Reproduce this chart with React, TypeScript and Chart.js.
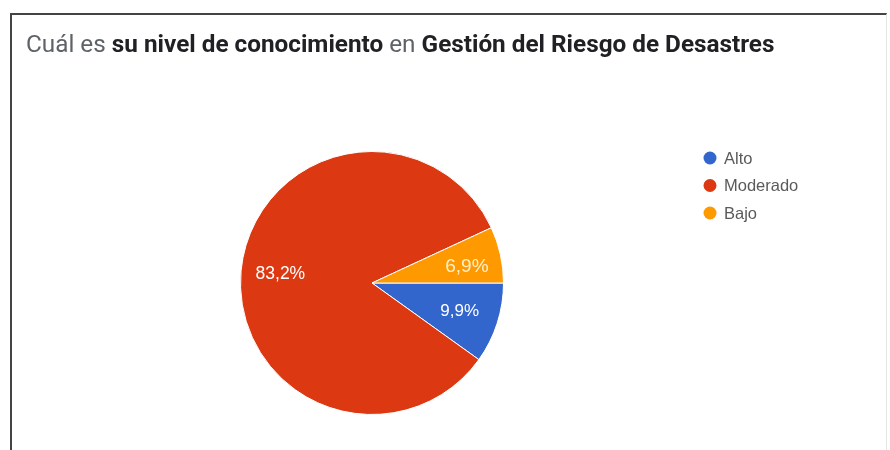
import React, { useEffect, useRef } from "react";
import { Chart, registerables } from "chart.js";

Chart.register(...registerables);

const categories = ["Alto", "Moderado", "Bajo"];
const values = [9.9, 83.2, 6.9];
const labelsText = ["9,9%", "83,2%", "6,9%"];
const colors = ["#3366cc", "#dc3912", "#ff9900"];

const sliceLabelPlugin = {
  id: "sliceLabels",
  afterDatasetsDraw(chart: any) {
    const ctx = chart.ctx;
    const meta = chart.getDatasetMeta(0);
    meta.data.forEach((arc: any, i: number) => {
      const p = arc.getProps(["x", "y", "startAngle", "endAngle", "outerRadius"], true);
      const mid = (p.startAngle + p.endAngle) / 2;
      const r = p.outerRadius * 0.7;
      const x = p.x + Math.cos(mid) * r;
      const y = p.y + Math.sin(mid) * r;
      ctx.save();
      const big = i === 2;
      const size = big ? "19px" : i === 1 ? "17.5px" : "17px";
      ctx.font = size + " 'Liberation Sans', Arial, sans-serif";
      ctx.fillStyle = big ? "#fff0cc" : "#ffffff";
      ctx.textAlign = "center";
      ctx.textBaseline = "middle";
      ctx.fillText(labelsText[i], x + (big ? 5 : 0), y + (big ? 4 : 0));
      ctx.restore();
    });
  },
};

const legendPlugin = {
  id: "customLegend",
  afterDraw(chart: any) {
    const ctx = chart.ctx;
    const labels = chart.data.labels as string[];
    const bg = chart.data.datasets[0].backgroundColor as string[];
    labels.forEach((lab, i) => {
      const cy = 158 + i * 27.5;
      ctx.save();
      ctx.beginPath();
      ctx.arc(710, cy, 6.5, 0, Math.PI * 2);
      ctx.fillStyle = bg[i];
      ctx.fill();
      ctx.font = "16.5px 'Liberation Sans', Arial, sans-serif";
      ctx.fillStyle = "#5a5a5a";
      ctx.textAlign = "left";
      ctx.textBaseline = "middle";
      ctx.fillText(lab, 724, cy + 1);
      ctx.restore();
    });
  },
};

export default function App() {
  const ref = useRef<HTMLCanvasElement | null>(null);

  useEffect(() => {
    document.body.style.margin = "0";
    if (!ref.current) return;
    const chart = new Chart(ref.current, {
      type: "pie",
      data: {
        labels: categories,
        datasets: [
          {
            data: values,
            backgroundColor: colors,
            borderColor: "#ffffff",
            borderWidth: 1,
          },
        ],
      },
      options: {
        responsive: false,
        animation: false,
        devicePixelRatio: 1,
        rotation: 90,
        layout: { padding: { left: 240, right: 386, top: 151, bottom: 35 } },
        plugins: {
          legend: { display: false },
          tooltip: { enabled: false },
          title: { display: false },
        },
      },
      plugins: [sliceLabelPlugin, legendPlugin],
    });
    return () => chart.destroy();
  }, []);

  return (
    <div style={{ position: "relative", width: 890, height: 450, overflow: "hidden", background: "#fff" }}>
      <div
        style={{
          position: "absolute",
          left: 10,
          top: 13,
          width: 874,
          height: 460,
          borderTop: "2px solid #444",
          borderLeft: "2px solid #444",
          borderRight: "1px solid #e6e6e6",
        }}
      />
      <canvas ref={ref} width={890} height={450} style={{ position: "absolute", left: 0, top: 0 }} />
      <div
        style={{
          position: "absolute",
          left: 26,
          top: 29,
          fontFamily: "Roboto, 'Noto Sans', sans-serif",
          fontSize: 24.3,
          lineHeight: "30px",
          color: "#5f6368",
          whiteSpace: "nowrap",
        }}
      >
        Cuál es <b style={{ color: "#202124", fontWeight: 700 }}>su nivel de conocimiento</b> en{" "}
        <b style={{ color: "#202124", fontWeight: 700 }}>Gestión del Riesgo de Desastres</b>
      </div>
    </div>
  );
}
